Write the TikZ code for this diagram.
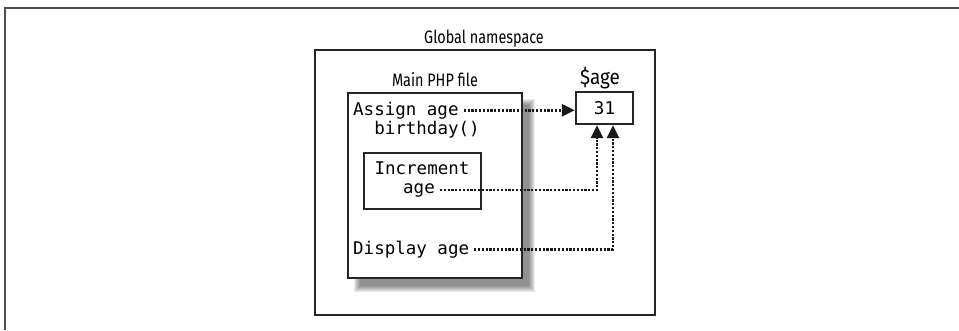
\documentclass[tikz,border=0pt]{standalone}
\usepackage{fontspec}
\usetikzlibrary{arrows.meta,calc}
\newfontfamily\lblfont[FakeStretch=0.8]{Fira Sans}
\newfontfamily\varfont[FakeStretch=0.9]{Fira Sans}
\newfontfamily\codefont{DejaVu Sans Mono}
\tikzset{
  box/.style={draw=black!85, line width=2.4pt, inner sep=0pt},
  lbl/.style={font=\lblfont\fontsize{18}{20}\selectfont, inner sep=0pt},
  code/.style={font=\codefont\fontsize{17.5}{19}\selectfont, inner sep=0pt},
  dotline/.style={line width=2.8pt, dash pattern=on 2.2pt off 1.6pt, draw=black!90,
    -{Triangle[length=13pt,width=12pt]}},
}
\begin{document}
\begin{tikzpicture}[x=1pt,y=-1pt]
\useasboundingbox (0,0) rectangle (959,330);
% page frame
\draw[black!70, line width=1.2pt] (5,330) -- (5,8) -- (959,8);
% global namespace
\node[box, minimum width=340pt, minimum height=265pt] (global) at (485,182.5) {};
\node[lbl, anchor=base] (globallbl) at (484,43) {Global namespace};
% shadow of main box
\foreach \k in {0,...,6}
  \fill[black, opacity=0.08] (354+\k,99+\k) rectangle (535-\k,292-\k);
% main PHP file
\node[box, fill=white, minimum width=174pt, minimum height=185pt] (main) at (435,185.5) {};
\node[lbl, anchor=base] (mainlbl) at (435,86) {Main PHP file};
% $age box
\node[box, minimum width=57pt, minimum height=32pt] (agebox) at (604.5,108) {};
\node[code, anchor=base] (val) at (604.5,114) {31};
\node[font=\varfont\fontsize{21}{23}\selectfont, inner sep=0pt, anchor=base] (agelbl) at (600,84) {\$age};
% texts
\node[code, anchor=base west] (assign) at (353,115) {Assign age};
\node[code, anchor=base] (bday) at (427,134) {birthday()};
\node[box, minimum width=117pt, minimum height=56pt] (inc) at (422.5,181) {};
\node[code, anchor=base] (inctxt) at (422,174) {Increment};
\node[code, anchor=base west] (incage) at (403,193) {age};
\node[code, anchor=base west] (display) at (353,254) {Display age};
% connectors
\draw[dotline] ([xshift=5pt]assign.east) -- (agebox.west |- assign.east);
\draw[dotline] ([xshift=5pt]incage.east) -| ([xshift=-7.5pt]agebox.south);
\draw[dotline] ([xshift=5pt]display.east) -| ([xshift=8.5pt]agebox.south);
\end{tikzpicture}
\end{document}
